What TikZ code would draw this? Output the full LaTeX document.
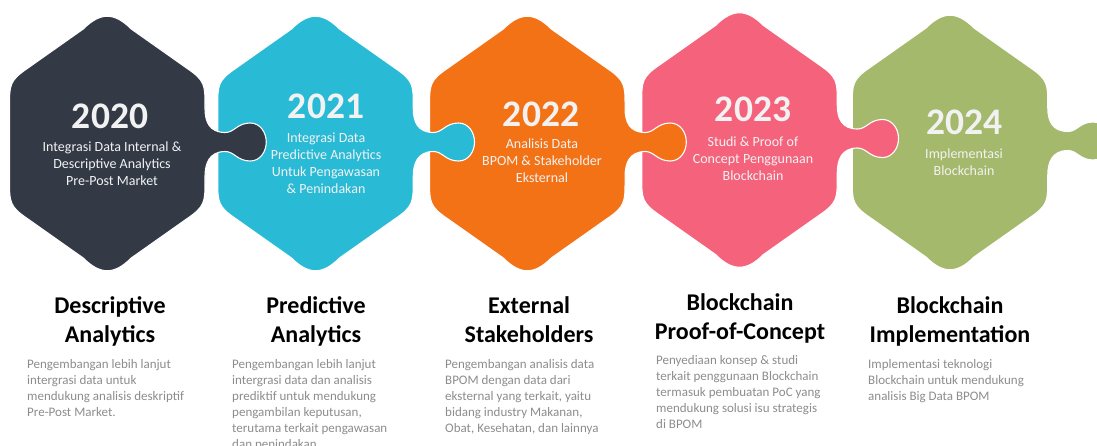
\documentclass[tikz,border=0pt]{standalone}
\usepackage{fontspec}
\setmainfont{Carlito}
\definecolor{cdark}{HTML}{333A46}
\definecolor{cblue}{HTML}{29BAD6}
\definecolor{corange}{HTML}{F47216}
\definecolor{cpink}{HTML}{F4627B}
\definecolor{cgreen}{HTML}{A4B96C}
\definecolor{ctxt}{HTML}{F2F2F2}
\definecolor{cbody}{HTML}{8C8C8C}
\tikzset{
  puzzle/.style={draw=white,line width=1.1pt,line join=round},
  yearlabel/.style={text=ctxt,font=\fontsize{37.5}{37.5}\selectfont\bfseries,inner sep=0pt,anchor=center},
  sublabel/.style={text=ctxt,font=\fontsize{14}{17}\selectfont,inner sep=0pt,anchor=north,align=center},
  titlelabel/.style={text=black,font=\fontsize{24}{29}\selectfont\bfseries,inner sep=0pt,anchor=north,align=center},
  bodylabel/.style={text=cbody,font=\fontsize{13}{16}\selectfont,inner sep=0pt,anchor=north west,align=left},
}
\newcommand{\puzzlepiece}[3]{%
  \begin{scope}[shift={(#1,#2)}]
    \path[puzzle,fill=#3]
      (-24,-114.5) .. controls (-7,-131.5) and (7,-131.5) .. (24,-114.5)
      -- (80,-75) .. controls (97.75,-63) and (97.75,-58) .. (97.75,-38)
      -- (97.75,-35) .. controls (97.75,-22) and (102,-11) .. (118,-11)
      .. controls (127,-11) and (130,-20.5) .. (143,-20.5)
      .. controls (153,-20.5) and (159,-11) .. (159,-1.5)
      .. controls (159,8) and (153,17.5) .. (143,17.5)
      .. controls (130,17.5) and (127,8) .. (118,8)
      .. controls (102,8) and (97.75,20) .. (97.75,33)
      -- (97.75,38) .. controls (97.75,58) and (97.75,63) .. (80,75)
      -- (24,114.5) .. controls (7,131.5) and (-7,131.5) .. (-24,114.5)
      -- (-80,75) .. controls (-97.75,63) and (-97.75,58) .. (-97.75,38)
      -- (-97.75,-38) .. controls (-97.75,-58) and (-97.75,-63) .. (-80,-75)
      -- cycle;
  \end{scope}}
\begin{document}
\begin{tikzpicture}[x=1pt,y=-1pt]
\useasboundingbox (0,0) rectangle (1097,445);
\clip (0,0) rectangle (1097,445);
\puzzlepiece{950}{142.5}{cgreen}
\puzzlepiece{739.5}{140}{cpink}
\puzzlepiece{527.3}{143.5}{corange}
\puzzlepiece{315.5}{143.5}{cblue}
\puzzlepiece{107.25}{143.5}{cdark}

\node[yearlabel] (y1) at (110,116) {2020};
\node[yearlabel] (y2) at (326,106) {2021};
\node[yearlabel] (y3) at (541,114) {2022};
\node[yearlabel] (y4) at (753,109) {2023};
\node[yearlabel] (y5) at (964,122) {2024};

\node[sublabel] (s1) at (112,142) {Integrasi Data Internal \&\\Descriptive Analytics\\Pre-Post Market};
\node[sublabel] (s2) at (326,132.5) {Integrasi Data\\Predictive Analytics\\Untuk Pengawasan\\\& Penindakan};
\node[sublabel] (s3) at (542,138.5) {Analisis Data\\BPOM \& Stakeholder\\Eksternal};
\node[sublabel] (s4) at (753,136.5) {Studi \& Proof of\\Concept Penggunaan\\Blockchain};
\node[sublabel] (s5) at (964,148.5) {Implementasi\\Blockchain};

\node[titlelabel] (t1) at (110,296.5) {Descriptive\\Analytics};
\node[titlelabel] (t2) at (316,296.5) {Predictive\\Analytics};
\node[titlelabel] (t3) at (529,296.5) {External\\Stakeholders};
\node[titlelabel] (t4) at (740,293.5) {Blockchain\\Proof-of-Concept};
\node[titlelabel] (t5) at (950,296.5) {Blockchain\\Implementation};

\node[bodylabel] (b1) at (27,357) {\strut Pengembangan lebih lanjut\\intergrasi data untuk\\mendukung analisis deskriptif\\Pre-Post Market.};
\node[bodylabel] (b2) at (232,357) {\strut Pengembangan lebih lanjut\\intergrasi data dan analisis\\prediktif untuk mendukung\\pengambilan keputusan,\\terutama terkait pengawasan\\dan penindakan};
\node[bodylabel] (b3) at (445,357) {\strut Pengembangan analisis data\\BPOM dengan data dari\\eksternal yang terkait, yaitu\\bidang industry Makanan,\\Obat, Kesehatan, dan lainnya};
\node[bodylabel] (b4) at (656,353.5) {\strut Penyediaan konsep \& studi\\terkait penggunaan Blockchain\\termasuk pembuatan PoC yang\\mendukung solusi isu strategis\\di BPOM};
\node[bodylabel] (b5) at (868,357) {\strut Implementasi teknologi\\Blockchain untuk mendukung\\analisis Big Data BPOM};
\end{tikzpicture}
\end{document}
